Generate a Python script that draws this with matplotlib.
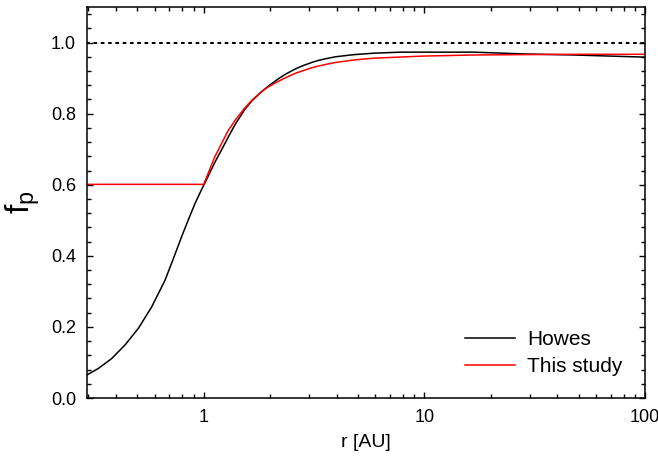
import matplotlib
matplotlib.use("Agg")
import matplotlib.pyplot as plt
from matplotlib.ticker import MultipleLocator, LogLocator, NullFormatter

plt.rcParams['font.family'] = ['Liberation Sans', 'DejaVu Sans']
plt.rcParams['mathtext.default'] = 'regular'

# Howes curve, f_p vs r [AU]
r_howes = [0.296, 0.333, 0.383, 0.440, 0.506, 0.581, 0.668, 0.729, 0.796, 0.857,
           0.915, 0.976, 1.016, 1.122, 1.21, 1.29, 1.39, 1.536, 1.655, 1.83,
           1.97, 2.18, 2.35, 2.59, 2.79, 3.09, 3.32, 3.67, 3.96, 4.80,
           5.89, 7.8, 9.93, 16.7, 28.2, 47.5, 100.0]
f_howes = [0.065, 0.083, 0.111, 0.149, 0.196, 0.256, 0.331, 0.392, 0.455, 0.505,
           0.548, 0.585, 0.607, 0.662, 0.700, 0.733, 0.770, 0.812, 0.836, 0.862,
           0.878, 0.898, 0.911, 0.925, 0.934, 0.944, 0.950, 0.956, 0.960, 0.966,
           0.970, 0.973, 0.973, 0.973, 0.968, 0.965, 0.959]

# this study: flat at 0.6 inside 1 AU
r_study = [0.296, 1.0, 1.122, 1.29, 1.39, 1.536, 1.655, 1.83, 1.97, 2.18,
           2.35, 2.59, 2.79, 3.09, 3.32, 3.67, 3.96, 4.80, 5.89, 9.93,
           16.7, 28.2, 47.5, 100.0]
f_study = [0.601, 0.601, 0.678, 0.752, 0.782, 0.816, 0.838, 0.862, 0.876, 0.891,
           0.901, 0.913, 0.920, 0.929, 0.934, 0.940, 0.944, 0.951, 0.956, 0.962,
           0.965, 0.966, 0.967, 0.967]

f_limit = 1.0

fig = plt.figure(figsize=(6.58, 4.58), dpi=100)
ax = fig.add_axes([0.1322, 0.131, 0.848, 0.8537])

ax.axhline(f_limit, color='black', lw=1.5, linestyle=(0, (1, 2.5)), dash_capstyle='round')
ax.plot(r_howes, f_howes, color='black', lw=1.1, label='Howes')
ax.plot(r_study, f_study, color='#ff0000', lw=1.1, label='This study')

ax.set_xscale('log')
ax.set_xlim(0.296, 100)
ax.set_ylim(0, 1.1)

ax.set_xticks([1, 10, 100])
ax.set_xticklabels(['1', '10', '100'])
ax.xaxis.set_minor_locator(LogLocator(base=10, subs=range(2, 10)))
ax.xaxis.set_minor_formatter(NullFormatter())
ax.yaxis.set_major_locator(MultipleLocator(0.2))
ax.yaxis.set_minor_locator(MultipleLocator(0.04))

ax.tick_params(which='both', direction='in', top=True, right=True, width=1.0)
ax.tick_params(which='major', length=4.5, labelsize=13)
ax.tick_params(axis='y', which='major', pad=8)
ax.tick_params(axis='x', which='major', pad=8)
ax.tick_params(which='minor', length=2.6)
for s in ax.spines.values():
    s.set_linewidth(1.1)

ax.set_xlabel('r [AU]', fontsize=14, labelpad=6)
ax.set_ylabel('$f_p$', fontsize=24, labelpad=6)

ax.legend(loc='lower right', bbox_to_anchor=(0.9964, 0.0026), frameon=False,
          fontsize=15, handlelength=2.4, handletextpad=0.58, labelspacing=0.4,
          borderaxespad=0.6)

fig.savefig('out.png', dpi=100)
